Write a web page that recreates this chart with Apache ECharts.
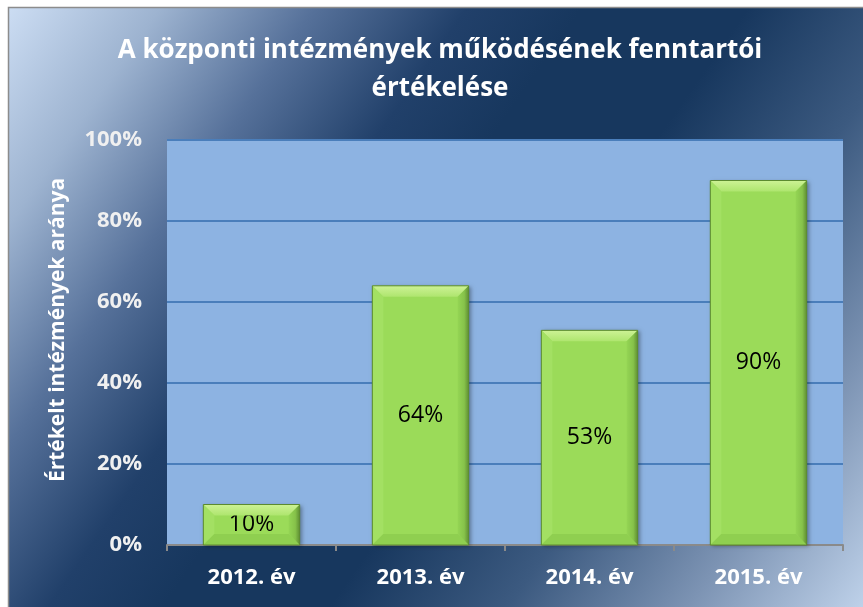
<!DOCTYPE html>
<html><head><meta charset="utf-8">
<script src="https://cdn.jsdelivr.net/npm/echarts@6/dist/echarts.min.js"></script>
<style>html,body{margin:0;padding:0;background:#fff}#c{width:863px;height:607px}</style>
</head><body><div id="c"></div>
<script>
const categories = ['2012. év', '2013. év', '2014. év', '2015. év'];
const values = [10, 64, 53, 90];
const yTicks = [0, 20, 40, 60, 80, 100];
const titleLines = ['A központi intézmények működésének fenntartói', 'értékelése'];
const yAxisTitle = 'Értékelt intézmények aránya';

const FONT = '"Open Sans", "DejaVu Sans", sans-serif';
const BAR_RATIO = 0.57;
const chart = echarts.init(document.getElementById('c'));

function bevel(params, api) {
  const cat = api.value(0), v = api.value(1);
  const top = api.coord([cat, v]);
  const base = api.coord([cat, 0]);
  const w = api.size([1, 0])[0] * BAR_RATIO;
  const x0 = top[0] - w / 2, x1 = top[0] + w / 2, y0 = top[1], y1 = base[1];
  const b = Math.min(11, (y1 - y0) / 3);
  return {
    type: 'group',
    silent: true,
    children: [
      { type: 'polygon', shape: { points: [[x0, y0], [x1, y0], [x1 - b, y0 + b], [x0 + b, y0 + b]] },
        style: { fill: new echarts.graphic.LinearGradient(0, 0, 0, 1, [{ offset: 0, color: '#CDF295' }, { offset: 1, color: '#AEE56E' }]) } },
      { type: 'polygon', shape: { points: [[x0, y0], [x0 + b, y0 + b], [x0 + b, y1 - b], [x0, y1]] },
        style: { fill: '#A3E063' } },
      { type: 'polygon', shape: { points: [[x1, y0], [x1, y1], [x1 - b, y1 - b], [x1 - b, y0 + b]] },
        style: { fill: new echarts.graphic.LinearGradient(0, 0, 1, 0, [{ offset: 0, color: '#94D554' }, { offset: 0.6, color: '#86C24A' }, { offset: 1, color: '#5F8F33' }]) } },
      { type: 'polygon', shape: { points: [[x0, y1], [x1, y1], [x1 - b, y1 - b], [x0 + b, y1 - b]] },
        style: { fill: '#8FCF50' } },
      { type: 'rect', shape: { x: x0, y: y0, width: w, height: y1 - y0 },
        style: { fill: 'none', stroke: '#5C8A30', lineWidth: 1 } }
    ]
  };
}

chart.setOption({
  animation: false,
  graphic: [
    { type: 'rect', z: -10, shape: { x: 8.5, y: 7.5, width: 870, height: 620 },
      style: {
        fill: { type: 'linear', x: 8, y: 7, x2: 866, y2: 607, global: true,
          colorStops: [
            { offset: 0, color: '#CCDDF3' },
            { offset: 0.12, color: '#9DB3D0' },
            { offset: 0.24, color: '#56719A' },
            { offset: 0.36, color: '#21406A' },
            { offset: 0.45, color: '#17375E' },
            { offset: 0.58, color: '#17375E' },
            { offset: 0.72, color: '#3C5A80' },
            { offset: 0.86, color: '#7C93B3' },
            { offset: 1, color: '#BFD2EA' }
          ] },
        stroke: '#8C8C8C', lineWidth: 1.5
      } },
    { type: 'text', z: 10, x: 440, y: 70,
      style: { text: titleLines.join('\n'), textAlign: 'center', textVerticalAlign: 'middle',
        font: 'bold 26px ' + FONT, fill: '#FFFFFF', lineHeight: 38 } },
    { type: 'text', z: 10, rotation: Math.PI / 2, x: 58, y: 330,
      style: { text: yAxisTitle, textAlign: 'center', textVerticalAlign: 'middle',
        font: 'bold 21px ' + FONT, fill: '#FFFFFF' } }
  ],
  grid: { left: 167, right: 20, top: 140, bottom: 62, show: true, backgroundColor: '#8DB3E2', borderWidth: 0 },
  xAxis: {
    type: 'category', data: categories,
    axisLine: { lineStyle: { color: '#8A8A8A', width: 2 } },
    axisTick: { show: true, length: 6, lineStyle: { color: '#8A8A8A', width: 2 } },
    axisLabel: { color: '#FFFFFF', fontFamily: FONT, fontWeight: 'bold', fontSize: 22, margin: 22 }
  },
  yAxis: {
    type: 'value', min: yTicks[0], max: yTicks[yTicks.length - 1], interval: 20,
    axisLine: { show: false }, axisTick: { show: false },
    splitLine: { lineStyle: { color: '#4A7EBB', width: 2 } },
    axisLabel: { color: '#F0F0F0', fontFamily: FONT, fontWeight: 'bold', fontSize: 22, margin: 25,
      formatter: '{value}%' }
  },
  series: [
    { type: 'bar', data: values, barWidth: (BAR_RATIO * 100) + '%', z: 2,
      itemStyle: { color: '#9BDB59', shadowBlur: 4, shadowColor: 'rgba(0,0,0,0.35)', shadowOffsetX: 2, shadowOffsetY: 1 },
      label: { show: true, position: 'inside', formatter: '{c}%', color: '#000000', fontFamily: FONT, fontSize: 23 } },
    { type: 'custom', renderItem: bevel, z: 3, data: values.map((v, i) => [i, v]) }
  ]
});
</script></body></html>
